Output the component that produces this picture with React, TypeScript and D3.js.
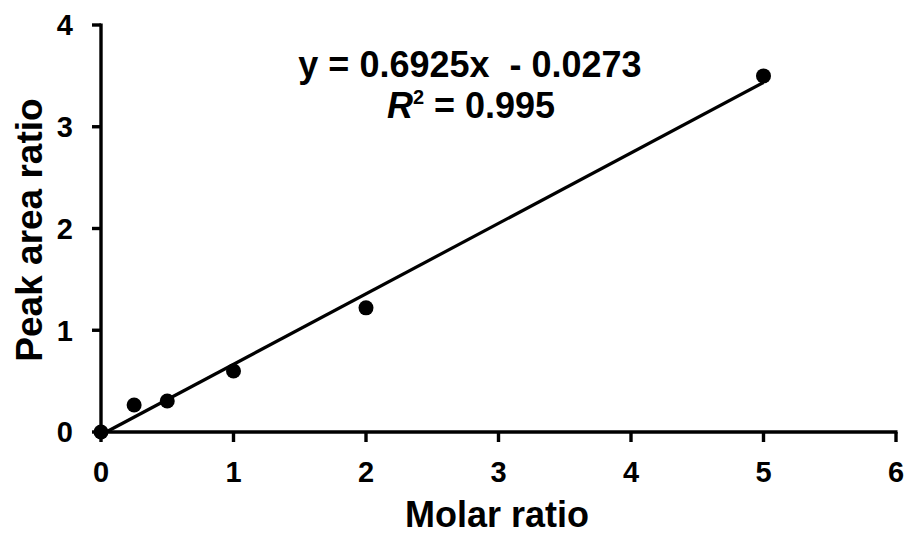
import React from "react";
import * as d3 from "d3";

// Calibration data: molar ratio vs peak area ratio
const molarRatio = [0, 0.25, 0.5, 1, 2, 5];
const peakAreaRatio = [0, 0.265, 0.305, 0.6, 1.22, 3.5];

// Linear fit parameters shown in the annotation
const slope = 0.6925;
const intercept = -0.0273;
const rSquared = 0.995;

const xTicks = [0, 1, 2, 3, 4, 5, 6];
const yTicks = [0, 1, 2, 3, 4];

const W = 906;
const H = 534;
const FONT = "'Liberation Sans', Arial, sans-serif";

export default function App() {
  const x = d3.scaleLinear().domain([0, 6]).range([101, 896]);
  const y = d3.scaleLinear().domain([0, 4]).range([432, 25]);

  const points = molarRatio.map((m, i) => ({ m, p: peakAreaRatio[i] }));

  const fitLine = d3
    .line<number>()
    .x((d) => x(d))
    .y((d) => y(slope * d + intercept));

  const axisColor = "#000";
  const sw = 3.4;

  return (
    <svg
      width={W}
      height={H}
      viewBox={`0 0 ${W} ${H}`}
      style={{ position: "absolute", left: 0, top: 0, background: "#fff" }}
      fontFamily={FONT}
      fontWeight="bold"
    >
      <rect x={0} y={0} width={W} height={H} fill="#fff" />

      {/* y axis */}
      <line x1={x(0)} x2={x(0)} y1={y(0)} y2={y(4) - 1.5} stroke={axisColor} strokeWidth={sw} />
      {yTicks.map((t) => (
        <g key={`yt${t}`}>
          <line x1={x(0) - 9} x2={x(0)} y1={y(t)} y2={y(t)} stroke={axisColor} strokeWidth={sw} />
          <text x={73} y={y(t)} dy="0.36em" textAnchor="end" fontSize={29} fill="#000">
            {t}
          </text>
        </g>
      ))}

      {/* x axis */}
      <line x1={x(0) - 1.5} x2={x(6) + 1.5} y1={y(0)} y2={y(0)} stroke={axisColor} strokeWidth={sw} />
      {xTicks.map((t) => (
        <g key={`xt${t}`}>
          <line x1={x(t)} x2={x(t)} y1={y(0)} y2={y(0) + 10} stroke={axisColor} strokeWidth={sw} />
          <text x={x(t)} y={482} textAnchor="middle" fontSize={29} fill="#000">
            {t}
          </text>
        </g>
      ))}

      {/* trend line */}
      <path d={fitLine([0, 5]) ?? ""} fill="none" stroke="#000" strokeWidth={3.2} />

      {/* data points */}
      {points.map((d, i) => (
        <circle key={i} cx={x(d.m)} cy={y(d.p)} r={7.5} fill="#000" />
      ))}

      {/* axis titles */}
      <text x={497} y={527} textAnchor="middle" fontSize={36} fill="#000">
        Molar ratio
      </text>
      <text
        transform="translate(42,230) rotate(-90)"
        textAnchor="middle"
        fontSize={37}
        fill="#000"
      >
        Peak area ratio
      </text>

      {/* fit annotation */}
      <text x={470} y={77} textAnchor="middle" fontSize={36} fill="#000" style={{ whiteSpace: "pre" }}>
        {`y = ${slope}x  - ${Math.abs(intercept).toFixed(4)}`}
      </text>
      <text x={471} y={118} textAnchor="middle" fontSize={36} fill="#000">
        <tspan fontStyle="italic">R</tspan>
        <tspan fontSize={20} dy={-14}>2</tspan>
        <tspan dy={14}>{` = ${rSquared}`}</tspan>
      </text>
    </svg>
  );
}
